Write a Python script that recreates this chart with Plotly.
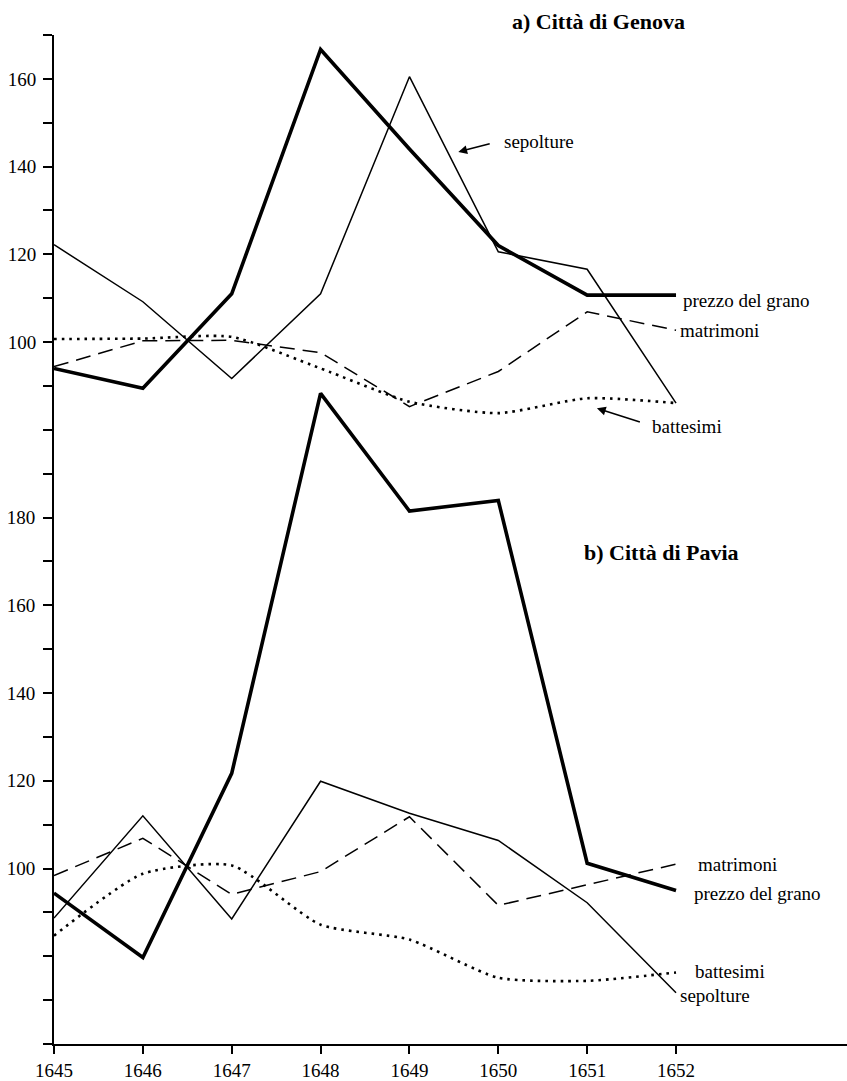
import plotly.graph_objects as go

# Years on the shared horizontal axis
years = [1645, 1646, 1647, 1648, 1649, 1650, 1651, 1652]

# a) Città di Genova (index values)
gen_prezzo = [94.0, 89.5, 111.0, 166.7, 144.0, 122.0, 110.7, 110.7]
gen_sepolture = [122.2, 109.2, 91.7, 111.0, 160.5, 120.6, 116.6, 86.1]
gen_matrimoni = [94.4, 100.3, 100.4, 97.6, 85.3, 93.3, 106.9, 102.7]
gen_battesimi = [100.7, 100.8, 101.2, 94.0, 86.4, 83.8, 87.2, 86.1]

# b) Città di Pavia (index values)
pav_prezzo = [94.4, 79.7, 121.7, 208.3, 181.5, 183.9, 101.2, 95.0]
pav_sepolture = [88.7, 112.0, 88.5, 119.9, 112.6, 106.4, 92.2, 71.7]
pav_matrimoni = [98.4, 106.9, 94.1, 99.3, 111.8, 91.6, 96.3, 101.0]
pav_battesimi = [84.7, 98.8, 100.7, 87.2, 83.8, 75.1, 74.4, 76.3]

# Tick labels for the two stacked scales on the single left axis
pav_ticks = [100, 120, 140, 160, 180]
gen_ticks = [100, 120, 140, 160]

SERIF = "'Liberation Serif', 'Times New Roman', serif"
INK = "#000000"

thick = dict(color=INK, width=3.6)
thin = dict(color=INK, width=1.5)
dashed = dict(color=INK, width=1.5, dash="15px,8px")
dotted = dict(color=INK, width=2.6, dash="2.6px,5px", shape="spline", smoothing=0.6)

fig = go.Figure()

# Pavia series (lower scale, yaxis)
for vals, ln in [(pav_battesimi, dotted), (pav_matrimoni, dashed),
                 (pav_sepolture, thin), (pav_prezzo, thick)]:
    fig.add_trace(go.Scatter(x=years, y=vals, mode="lines", line=ln,
                             yaxis="y", showlegend=False, hoverinfo="skip"))

# Genova series (upper scale, yaxis2)
for vals, ln in [(gen_battesimi, dotted), (gen_matrimoni, dashed),
                 (gen_sepolture, thin), (gen_prezzo, thick)]:
    fig.add_trace(go.Scatter(x=years, y=vals, mode="lines", line=ln,
                             yaxis="y2", showlegend=False, hoverinfo="skip"))

# Full set of tick positions on the Pavia scale
pav_all = list(range(60, 291, 10))
pav_text = [str(v) if v in pav_ticks else "" for v in pav_all]

fig.update_layout(
    width=847, height=1081,
    margin=dict(l=54, r=0, t=35, b=33),
    paper_bgcolor="white", plot_bgcolor="white",
    font=dict(family=SERIF, size=19, color=INK),
    hovermode=False,
    xaxis=dict(
        range=[1645, 1653.924], tickvals=years, ticktext=[str(y) for y in years],
        showline=True, linecolor=INK, linewidth=2,
        ticks="outside", ticklen=8, tickwidth=1.5, tickcolor=INK,
        showgrid=False, zeroline=False,
        tickfont=dict(family=SERIF, size=19, color=INK),
    ),
    yaxis=dict(
        range=[60, 290], tickvals=pav_all, ticktext=pav_text,
        showline=True, linecolor=INK, linewidth=2,
        ticks="outside", ticklen=9, tickwidth=1.5, tickcolor=INK,
        showgrid=False, zeroline=False,
        tickfont=dict(family=SERIF, size=19, color=INK),
        ticklabelstandoff=4,
    ),
    yaxis2=dict(
        range=[-60, 170], overlaying="y", side="left",
        tickvals=gen_ticks, ticktext=[str(v) for v in gen_ticks],
        showline=False, ticks="outside", ticklen=9, tickcolor="rgba(0,0,0,0)",
        showgrid=False, zeroline=False,
        tickfont=dict(family=SERIF, size=19, color=INK),
        ticklabelstandoff=4,
    ),
)

def label(text, x, y, yref, size=19, bold=False):
    fig.add_annotation(
        x=x, y=y, xref="x", yref=yref, text=f"<b>{text}</b>" if bold else text,
        showarrow=False, xanchor="left", yanchor="middle",
        font=dict(family=SERIF, size=size, color=INK),
    )

def pointer(x_tail, y_tail, x_head, y_head, yref):
    fig.add_annotation(
        x=x_head, y=y_head, ax=x_tail, ay=y_tail,
        xref="x", yref=yref, axref="x", ayref=yref,
        text="", showarrow=True, arrowhead=2, arrowsize=1.1,
        arrowwidth=1.6, arrowcolor=INK,
    )

# Panel titles
fig.add_annotation(
    x=1650.13, y=1.013, xref="x", yref="paper", text="<b>a) Città di Genova</b>",
    showarrow=False, xanchor="left", yanchor="middle",
    font=dict(family=SERIF, size=22, color=INK),
)
label("b) Città di Pavia", 1650.94, 172.0, "y", size=22, bold=True)

# Genova series labels
label("sepolture", 1650.04, 145.8, "y2")
pointer(1649.92, 145.3, 1649.55, 143.35, "y2")
label("prezzo del grano", 1652.06, 109.4, "y2")
label("matrimoni", 1652.02, 102.6, "y2")
label("battesimi", 1651.71, 80.8, "y2")
pointer(1651.61, 81.7, 1651.11, 84.9, "y2")

# Pavia series labels
label("matrimoni", 1652.22, 100.9, "y")
label("prezzo del grano", 1652.18, 94.4, "y")
label("battesimi", 1652.19, 76.6, "y")
label("sepolture", 1652.02, 71.0, "y")

fig.write_html("out.html")
